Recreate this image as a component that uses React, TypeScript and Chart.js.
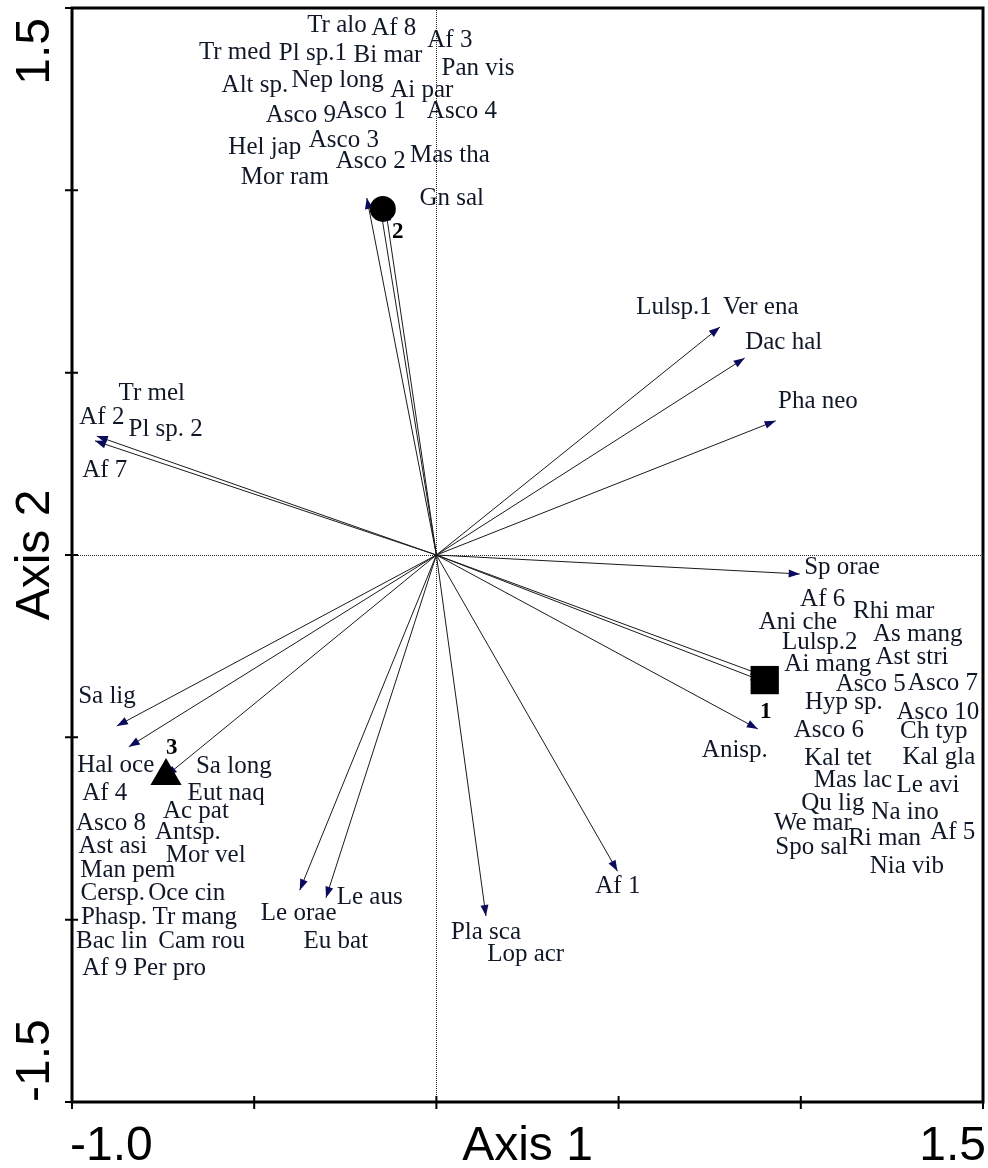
import React, { useEffect, useRef } from 'react';
import { Chart, registerables } from 'chart.js';

Chart.register(...registerables);

// ---------- data ----------
const xTicks = [-1.0, -0.5, 0, 0.5, 1.0, 1.5];
const yTicks = [-1.5, -1.0, -0.5, 0, 0.5, 1.0, 1.5];
const xEndLabels = ['-1.0', '1.5'];
const yEndLabels = ['-1.5', '1.5'];
const axisTitles = ['Axis 1', 'Axis 2'];

// environmental / species vectors (tips; all start at origin)
const arrowX = [-0.191, -0.155, -0.139, 0.778, 0.846, 0.931, 0.997, 0.893, 0.893, 0.882, -0.932, -0.937, -0.877, -0.844, -0.742, -0.375, -0.303, 0.136, 0.497];
const arrowY = [0.979, 0.960, 0.946, 0.625, 0.540, 0.368, -0.052, -0.329, -0.345, -0.477, 0.326, 0.313, -0.469, -0.526, -0.606, -0.919, -0.940, -0.990, -0.867];

// group centroids
const centroidNames = ['1', '2', '3'];
const centroidX = [0.901, -0.147, -0.742];
const centroidY = [-0.343, 0.949, -0.606];
const centroidLabelX = [0.904, -0.106, -0.726];
const centroidLabelY = [-0.430, 0.886, -0.529];

// species labels
const speciesNames = [
  'Tr alo', 'Af 8', 'Af 3', 'Tr med', 'Pl sp.1', 'Bi mar', 'Pan vis', 'Alt sp.', 'Nep long', 'Ai par',
  'Asco 9', 'Asco 1', 'Asco 4', 'Hel jap', 'Asco 3', 'Asco 2', 'Mas tha', 'Mor ram', 'Gn sal',
  'Lulsp.1', 'Ver ena', 'Dac hal', 'Pha neo',
  'Tr mel', 'Af 2', 'Pl sp. 2', 'Af 7',
  'Sp orae', 'Af 6', 'Rhi mar', 'Ani che', 'As mang', 'Lulsp.2', 'Ast stri', 'Ai mang', 'Asco 5', 'Asco 7',
  'Hyp sp.', 'Asco 10', 'Asco 6', 'Ch typ', 'Anisp.', 'Kal tet', 'Kal gla', 'Mas lac', 'Le avi', 'Qu lig',
  'Na ino', 'We mar', 'Af 5', 'Ri man', 'Spo sal', 'Nia vib',
  'Sa lig', 'Hal oce', 'Sa long', 'Af 4', 'Eut naq', 'Ac pat', 'Asco 8', 'Antsp.', 'Ast asi', 'Mor vel',
  'Man pem', 'Cersp.', 'Oce cin', 'Phasp.', 'Tr mang', 'Bac lin', 'Cam rou', 'Af 9', 'Per pro',
  'Le orae', 'Le aus', 'Eu bat', 'Pla sca', 'Lop acr', 'Af 1',
];
const speciesX = [
  -0.273, -0.117, 0.037, -0.553, -0.339, -0.133, 0.114, -0.498, -0.271, -0.040,
  -0.372, -0.180, 0.070, -0.471, -0.254, -0.180, 0.037, -0.416, 0.042,
  0.652, 0.890, 0.953, 1.047,
  -0.781, -0.918, -0.743, -0.910,
  1.113, 1.060, 1.255, 0.992, 1.321, 1.052, 1.305, 1.074, 1.192, 1.390,
  1.118, 1.376, 1.077, 1.365, 0.819, 1.102, 1.379, 1.143, 1.349, 1.088,
  1.286, 1.033, 1.417, 1.230, 1.030, 1.291,
  -0.904, -0.880, -0.556, -0.910, -0.577, -0.660, -0.893, -0.682, -0.888, -0.633,
  -0.847, -0.888, -0.685, -0.885, -0.663, -0.891, -0.644, -0.910, -0.732,
  -0.378, -0.183, -0.276, 0.136, 0.245, 0.498,
];
const speciesY = [
  1.453, 1.445, 1.412, 1.379, 1.376, 1.371, 1.335, 1.289, 1.302, 1.275,
  1.206, 1.217, 1.215, 1.119, 1.138, 1.078, 1.097, 1.034, 0.979,
  0.680, 0.680, 0.584, 0.420,
  0.444, 0.378, 0.345, 0.233,
  -0.033, -0.123, -0.156, -0.184, -0.219, -0.241, -0.282, -0.299, -0.356, -0.351,
  -0.403, -0.433, -0.480, -0.485, -0.535, -0.557, -0.554, -0.617, -0.631, -0.680,
  -0.705, -0.735, -0.760, -0.776, -0.801, -0.855,
  -0.389, -0.576, -0.581, -0.653, -0.653, -0.702, -0.735, -0.762, -0.798, -0.825,
  -0.866, -0.927, -0.927, -0.995, -0.993, -1.061, -1.061, -1.135, -1.135,
  -0.982, -0.940, -1.061, -1.036, -1.094, -0.910,
];

// ---------- plugin ----------
const TEXT_COLOR = '#101828';
const SERIF = '"Liberation Serif", "Times New Roman", serif';
const SANS = '"Liberation Sans", Arial, sans-serif';

const biplotPlugin = {
  id: 'biplot',
  beforeDatasetsDraw(chart: any) {
    const { ctx, chartArea: a, scales } = chart;
    const x0 = Math.round(scales.x.getPixelForValue(0)) + 0.5;
    const y0 = Math.round(scales.y.getPixelForValue(0)) + 0.5;
    ctx.save();
    ctx.strokeStyle = '#222';
    ctx.lineWidth = 1;
    ctx.setLineDash([1, 1]);
    ctx.beginPath();
    ctx.moveTo(x0, a.top);
    ctx.lineTo(x0, a.bottom);
    ctx.moveTo(a.left, y0);
    ctx.lineTo(a.right, y0);
    ctx.stroke();
    ctx.restore();
  },
  afterDatasetDraw(chart: any, args: any) {
    const ds = chart.data.datasets[args.index];
    if (!ds.isArrow) return;
    const pts = args.meta.data;
    if (!pts || pts.length < 2) return;
    const p0 = pts[0];
    const p1 = pts[1];
    const ang = Math.atan2(p1.y - p0.y, p1.x - p0.x);
    const c = Math.cos(ang);
    const s = Math.sin(ang);
    const L = 11;
    const W = 4;
    const { ctx } = chart;
    ctx.save();
    ctx.fillStyle = '#0b0b5e';
    ctx.beginPath();
    ctx.moveTo(p1.x, p1.y);
    ctx.lineTo(p1.x - L * c + W * s, p1.y - L * s - W * c);
    ctx.lineTo(p1.x - L * c - W * s, p1.y - L * s + W * c);
    ctx.closePath();
    ctx.fill();
    ctx.restore();
  },
  afterDatasetsDraw(chart: any) {
    const { ctx, scales } = chart;
    ctx.save();
    ctx.fillStyle = TEXT_COLOR;
    ctx.font = `25px ${SERIF}`;
    ctx.textAlign = 'center';
    ctx.textBaseline = 'middle';
    const meta = chart.getDatasetMeta(chart.data.datasets.findIndex((d: any) => d.isSpecies));
    meta.data.forEach((pt: any, i: number) => {
      ctx.fillText(speciesNames[i], pt.x, pt.y);
    });
    ctx.fillStyle = '#000';
    ctx.font = `bold 23px ${SERIF}`;
    centroidNames.forEach((n, i) => {
      ctx.fillText(n, scales.x.getPixelForValue(centroidLabelX[i]), scales.y.getPixelForValue(centroidLabelY[i]));
    });
    ctx.restore();
  },
  afterDraw(chart: any) {
    const { ctx, chartArea: a, scales } = chart;
    ctx.save();
    // frame
    ctx.strokeStyle = '#000';
    ctx.lineWidth = 3;
    ctx.setLineDash([]);
    ctx.strokeRect(a.left, a.top, a.right - a.left, a.bottom - a.top);
    // ticks
    ctx.lineWidth = 2;
    ctx.beginPath();
    xTicks.forEach((v) => {
      const px = scales.x.getPixelForValue(v);
      ctx.moveTo(px, a.bottom - 6);
      ctx.lineTo(px, a.bottom + 7);
    });
    yTicks.forEach((v) => {
      const py = scales.y.getPixelForValue(v);
      ctx.moveTo(a.left - 7, py);
      ctx.lineTo(a.left + 6, py);
    });
    ctx.stroke();
    // tick labels and titles
    ctx.fillStyle = '#000';
    ctx.font = `48px ${SANS}`;
    ctx.textBaseline = 'alphabetic';
    const base = a.bottom + 58;
    ctx.textAlign = 'left';
    ctx.fillText(xEndLabels[0], a.left - 2, base);
    ctx.textAlign = 'right';
    ctx.fillText(xEndLabels[1], a.right + 3, base);
    ctx.textAlign = 'center';
    ctx.fillText(axisTitles[0], (a.left + a.right) / 2, base);

    const bx = a.left - 23;
    ctx.save();
    ctx.translate(bx, a.bottom);
    ctx.rotate(-Math.PI / 2);
    ctx.textAlign = 'left';
    ctx.fillText(yEndLabels[0], 0, 0);
    ctx.restore();
    ctx.save();
    ctx.translate(bx, a.top + 10);
    ctx.rotate(-Math.PI / 2);
    ctx.textAlign = 'right';
    ctx.fillText(yEndLabels[1], 0, 0);
    ctx.restore();
    ctx.save();
    ctx.translate(bx, (a.top + a.bottom) / 2);
    ctx.rotate(-Math.PI / 2);
    ctx.textAlign = 'center';
    ctx.fillText(axisTitles[1], 0, 0);
    ctx.restore();
    ctx.restore();
  },
};

export default function App() {
  const canvasRef = useRef<HTMLCanvasElement | null>(null);

  useEffect(() => {
    if (!canvasRef.current) return;
    const arrowSets = arrowX.map((tx, i) => ({
      isArrow: true,
      type: 'scatter',
      data: [{ x: 0, y: 0 }, { x: tx, y: arrowY[i] }],
      showLine: true,
      borderColor: '#1a1a1a',
      borderWidth: 1,
      pointRadius: 0,
      pointHoverRadius: 0,
      order: 2,
    }));
    const speciesSet = {
      isSpecies: true,
      type: 'scatter',
      data: speciesX.map((x, i) => ({ x, y: speciesY[i] })),
      pointRadius: 0,
      pointHoverRadius: 0,
      order: 1,
    };
    const centroidSet = {
      type: 'scatter',
      data: centroidX.map((x, i) => ({ x, y: centroidY[i] })),
      pointStyle: ['rect', 'circle', 'triangle'],
      pointRadius: [20, 13, 18],
      backgroundColor: '#000',
      borderColor: '#000',
      borderWidth: 0,
      order: 0,
    };
    const chart = new Chart(canvasRef.current, {
      type: 'scatter',
      data: { datasets: [...arrowSets, speciesSet, centroidSet] as any },
      options: {
        animation: false,
        responsive: false,
        events: [],
        layout: { autoPadding: false, padding: { left: 72, top: 8, right: 5, bottom: 66 } },
        plugins: { legend: { display: false }, tooltip: { enabled: false } },
        scales: {
          x: { type: 'linear', min: -1.0, max: 1.5, display: false },
          y: { type: 'linear', min: -1.5, max: 1.5, display: false },
        },
      },
      plugins: [biplotPlugin],
    } as any);
    return () => chart.destroy();
  }, []);

  return (
    <div style={{ position: 'absolute', left: 0, top: 0, width: 988, height: 1168, background: '#fff' }}>
      <canvas ref={canvasRef} width={988} height={1168} />
    </div>
  );
}
